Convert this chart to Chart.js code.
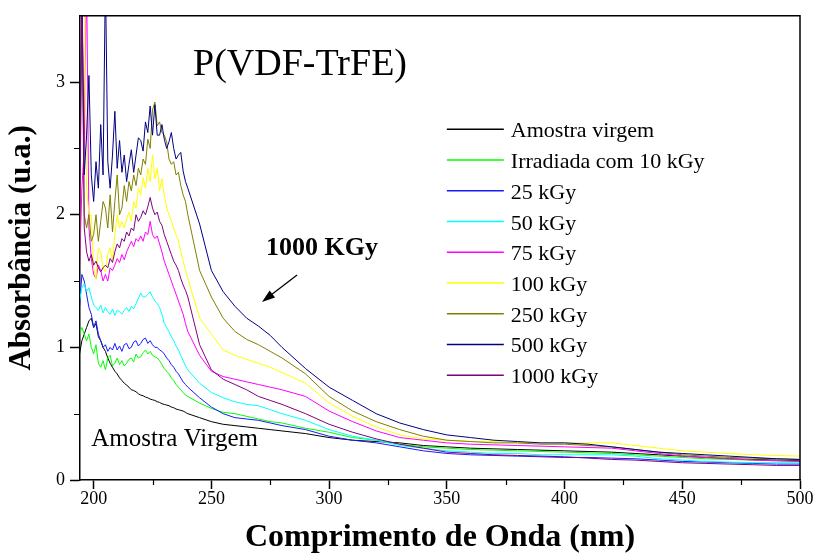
<!DOCTYPE html>
<html>
<head>
<meta charset="utf-8">
<script src="https://cdn.jsdelivr.net/npm/chart.js@4.4.0/dist/chart.umd.min.js"></script>
<style>
  html, body { margin: 0; padding: 0; background: #fff; }
  canvas { display: block; }
</style>
</head>
<body>
<canvas id="chart" width="816" height="555"></canvas>
<script>
// wavelength grid (nm): 1 nm steps in the noisy UV part, coarser after
const wavelengths = [194,195,196,197,198,199,200,201,202,203,204,205,206,207,208,209,210,211,
  212,213,214,215,216,217,218,219,220,221,222,223,224,225,226,227,228,229,230,
  231,232,233,234,235,236,237,238,239,240,
  245,250,255,260,265,270,275,280,
  290,300,310,320,330,340,350,360,370,380,390,400,410,420,430,440,450,460,470,480,490,500];

const labels = ['Amostra virgem', 'Irradiada com 10 kGy', '25 kGy', '50 kGy', '75 kGy',
  '100 kGy', '250 kGy', '500 kGy', '1000 kGy'];
const colors = ['#000000', '#00ff00', '#1a1aff', '#00ffff', '#ff00ff',
  '#ffff00', '#808000', '#000080', '#800080'];

const virgem = [0.95,1.05,1.1,1.15,1.2,1.22,1.15,1.18,1.08,1.05,1.0,0.97,0.92,0.88,0.85,0.82,0.8,0.77,
  0.75,0.73,0.715,0.7,0.68,0.675,0.665,0.65,0.64,0.635,0.625,0.62,0.61,0.605,0.6,0.59,0.585,0.575,0.57,
  0.565,0.56,0.55,0.545,0.535,0.53,0.525,0.52,0.51,0.5,
  0.47,0.44,0.42,0.41,0.4,0.39,0.38,0.37,
  0.35,0.32,0.3,0.29,0.28,0.26,0.25,0.24,0.235,0.23,0.225,0.22,0.215,0.21,0.2,0.19,0.18,0.17,0.16,0.155,0.15,0.145];
const kGy10 = [1.1,1.15,1.1,1.05,1.1,1.0,0.95,1.02,0.88,0.85,0.9,0.83,0.92,0.94,0.86,0.88,0.92,0.87,
  0.9,0.86,0.88,0.91,0.92,0.89,0.95,0.92,0.93,0.96,0.98,0.95,0.97,0.94,0.93,0.92,0.9,0.87,0.84,
  0.82,0.8,0.77,0.75,0.72,0.7,0.68,0.66,0.64,0.63,
  0.58,0.54,0.51,0.5,0.48,0.46,0.44,0.43,
  0.39,0.36,0.32,0.3,0.27,0.25,0.24,0.23,0.225,0.22,0.215,0.21,0.205,0.2,0.19,0.18,0.17,0.16,0.155,0.15,0.145,0.14];
const kGy25 = [1.3,1.55,1.5,1.4,1.3,1.25,1.15,1.2,1.1,1.05,1.0,1.02,0.97,1.0,0.98,1.03,0.98,1.01,
  0.97,1.02,1.03,0.99,1.0,1.04,1.05,1.01,1.03,1.06,1.07,1.03,1.05,1.02,1.0,1.0,0.98,0.97,0.95,
  0.92,0.9,0.87,0.85,0.82,0.8,0.77,0.74,0.72,0.7,
  0.62,0.55,0.5,0.47,0.46,0.45,0.43,0.41,
  0.38,0.33,0.3,0.28,0.25,0.22,0.2,0.19,0.185,0.18,0.175,0.17,0.17,0.165,0.16,0.15,0.14,0.135,0.13,0.125,0.12,0.12];
const kGy50 = [1.35,1.45,1.48,1.42,1.45,1.38,1.32,1.3,1.28,1.32,1.26,1.3,1.27,1.25,1.29,1.24,1.28,1.27,
  1.25,1.28,1.3,1.27,1.31,1.29,1.33,1.37,1.41,1.38,1.38,1.4,1.42,1.38,1.35,1.33,1.3,1.25,1.18,
  1.15,1.12,1.08,1.05,1.01,0.98,0.94,0.9,0.86,0.83,
  0.73,0.66,0.62,0.59,0.57,0.56,0.53,0.5,
  0.45,0.38,0.33,0.3,0.26,0.24,0.22,0.21,0.2,0.2,0.19,0.19,0.19,0.19,0.18,0.16,0.15,0.14,0.135,0.13,0.13,0.13];
const kGy75 = [1.6,2.2,2.5,3.8,1.9,1.67,1.55,1.52,1.62,1.58,1.5,1.55,1.5,1.6,1.58,1.62,1.67,1.64,
  1.7,1.66,1.72,1.76,1.8,1.76,1.82,1.8,1.84,1.8,1.87,1.85,1.95,1.85,1.82,1.84,1.78,1.72,1.65,
  1.6,1.55,1.5,1.45,1.4,1.35,1.3,1.25,1.18,1.12,
  0.94,0.82,0.78,0.76,0.74,0.72,0.7,0.68,
  0.63,0.52,0.44,0.37,0.32,0.3,0.28,0.27,0.265,0.26,0.255,0.25,0.245,0.24,0.22,0.2,0.18,0.17,0.16,0.15,0.145,0.14];
const kGy100 = [1.8,3.8,3.8,2.2,2.0,2.0,1.6,1.52,1.75,1.72,1.6,1.57,1.7,1.75,1.65,1.85,2.0,1.9,
  1.95,1.9,1.97,2.02,1.95,2.1,2.05,2.2,2.15,2.28,2.2,2.35,2.25,2.45,2.27,2.35,2.18,2.27,2.15,
  2.05,2.0,1.95,1.9,1.85,1.8,1.72,1.65,1.58,1.52,
  1.22,1.1,0.98,0.94,0.91,0.88,0.85,0.81,
  0.73,0.58,0.48,0.4,0.34,0.31,0.3,0.29,0.29,0.28,0.28,0.28,0.28,0.28,0.26,0.24,0.22,0.21,0.2,0.19,0.185,0.18];
const kGy250 = [1.6,3.8,2.0,1.9,2.0,1.8,1.85,2.0,1.8,1.95,2.1,2.05,1.9,2.15,1.87,2.1,2.3,2.0,
  2.05,2.22,2.1,2.25,2.18,2.3,2.22,2.35,2.3,2.42,2.38,2.57,2.5,2.79,2.85,2.67,2.7,2.62,2.6,
  2.55,2.42,2.38,2.4,2.3,2.32,2.22,2.15,2.1,2.0,
  1.58,1.38,1.22,1.12,1.06,1.02,0.97,0.92,
  0.8,0.63,0.52,0.44,0.38,0.33,0.3,0.29,0.28,0.28,0.27,0.27,0.26,0.25,0.23,0.21,0.19,0.18,0.17,0.165,0.16,0.155];
const kGy500 = [2.2,3.8,2.3,2.6,3.05,2.3,2.1,2.4,2.2,2.68,2.3,3.8,2.4,2.2,2.45,2.78,2.35,2.56,
  2.32,2.45,2.25,2.38,2.49,2.32,2.45,2.58,2.56,2.48,2.7,2.62,2.82,2.6,2.83,2.6,2.6,2.68,2.57,
  2.5,2.55,2.62,2.5,2.42,2.45,2.47,2.33,2.25,2.2,
  1.93,1.58,1.42,1.31,1.22,1.16,1.09,1.0,
  0.84,0.7,0.6,0.5,0.43,0.38,0.34,0.32,0.3,0.29,0.28,0.28,0.27,0.25,0.23,0.21,0.2,0.19,0.18,0.17,0.16,0.155];
const kGy1000 = [1.6,3.8,1.9,1.72,1.65,1.7,1.62,1.65,1.6,1.57,1.6,1.62,1.6,1.67,1.64,1.72,1.78,1.75,
  1.82,1.8,1.87,1.84,1.9,1.88,2.0,1.95,1.98,2.03,2.0,2.06,2.13,2.05,2.0,2.02,1.95,1.92,1.85,
  1.8,1.75,1.7,1.65,1.62,1.58,1.52,1.47,1.43,1.38,
  1.02,0.83,0.76,0.72,0.68,0.63,0.6,0.57,
  0.5,0.42,0.36,0.31,0.27,0.24,0.21,0.2,0.19,0.185,0.18,0.175,0.165,0.155,0.15,0.14,0.13,0.125,0.12,0.115,0.11,0.11];

const series = [virgem, kGy10, kGy25, kGy50, kGy75, kGy100, kGy250, kGy500, kGy1000];

const xTicks = [200, 250, 300, 350, 400, 450, 500];
const xMinor = [225, 275, 325, 375, 425, 475];
const yTicks = [0, 1, 2, 3];
const yMinor = [0.5, 1.5, 2.5];

const SERIF = '"Liberation Serif", "Times New Roman", serif';

const datasets = series.map((vals, i) => ({
  label: labels[i],
  data: wavelengths.map((w, j) => ({ x: w, y: vals[j] })),
  borderColor: colors[i],
  backgroundColor: colors[i],
  borderWidth: 1,
  pointRadius: 0,
  tension: 0,
  fill: false,
  order: series.length - i
}));

// frame, minor ticks, legend and the text notes inside the plot
const decor = {
  id: 'decor',
  afterDraw(chart) {
    const { ctx, chartArea: a, scales: { x, y } } = chart;
    ctx.save();
    ctx.strokeStyle = '#000';
    ctx.lineWidth = 1.5;
    ctx.beginPath();
    ctx.moveTo(a.left, a.top);
    ctx.lineTo(a.right, a.top);
    ctx.lineTo(a.right, a.bottom);
    ctx.stroke();

    ctx.lineWidth = 1.2;
    ctx.beginPath();
    xMinor.forEach(v => {
      const px = Math.round(x.getPixelForValue(v)) + 0.5;
      ctx.moveTo(px, a.bottom);
      ctx.lineTo(px, a.bottom + 5);
    });
    yMinor.forEach(v => {
      const py = Math.round(y.getPixelForValue(v)) + 0.5;
      ctx.moveTo(a.left, py);
      ctx.lineTo(a.left - 6, py);
    });
    ctx.stroke();

    // legend
    const lx0 = x.getPixelForValue(350), lx1 = x.getPixelForValue(374.2), tx = x.getPixelForValue(377.2);
    const ly0 = y.getPixelForValue(2.644);
    const step = y.getPixelForValue(0) - y.getPixelForValue(0.2317);
    ctx.font = '22px ' + SERIF;
    ctx.textAlign = 'left';
    ctx.textBaseline = 'alphabetic';
    labels.forEach((lab, i) => {
      const ly = ly0 + i * step;
      ctx.strokeStyle = colors[i];
      ctx.lineWidth = 1.5;
      ctx.beginPath();
      ctx.moveTo(lx0, ly);
      ctx.lineTo(lx1, ly);
      ctx.stroke();
      ctx.fillStyle = '#000';
      ctx.fillText(lab, tx, ly + 8);
    });

    // title and notes
    ctx.fillStyle = '#000';
    ctx.font = '38px ' + SERIF;
    ctx.fillText('P(VDF-TrFE)', x.getPixelForValue(242.2), y.getPixelForValue(3.05));
    ctx.font = 'bold 26px ' + SERIF;
    ctx.fillText('1000 KGy', x.getPixelForValue(273.2), y.getPixelForValue(1.695));
    ctx.font = '25px ' + SERIF;
    ctx.fillText('Amostra Virgem', x.getPixelForValue(199), y.getPixelForValue(0.255));

    // arrow
    const ax0 = x.getPixelForValue(286.4), ay0 = y.getPixelForValue(1.545);
    const ax1 = x.getPixelForValue(271.5), ay1 = y.getPixelForValue(1.343);
    const ang = Math.atan2(ay1 - ay0, ax1 - ax0);
    ctx.strokeStyle = '#000';
    ctx.lineWidth = 1.3;
    ctx.beginPath();
    ctx.moveTo(ax0, ay0);
    ctx.lineTo(ax1 - 8 * Math.cos(ang), ay1 - 8 * Math.sin(ang));
    ctx.stroke();
    ctx.beginPath();
    ctx.moveTo(ax1, ay1);
    ctx.lineTo(ax1 - 13 * Math.cos(ang) + 4.5 * Math.sin(ang), ay1 - 13 * Math.sin(ang) - 4.5 * Math.cos(ang));
    ctx.lineTo(ax1 - 13 * Math.cos(ang) - 4.5 * Math.sin(ang), ay1 - 13 * Math.sin(ang) + 4.5 * Math.cos(ang));
    ctx.closePath();
    ctx.fill();
    ctx.restore();
  }
};

new Chart(document.getElementById('chart'), {
  type: 'line',
  data: { datasets },
  options: {
    responsive: false,
    animation: false,
    events: [],
    layout: { padding: { top: 13, right: 16, left: 0, bottom: 0 } },
    plugins: { legend: { display: false }, tooltip: { enabled: false } },
    scales: {
      x: {
        type: 'linear',
        min: 194.2,
        max: 500,
        afterBuildTicks: s => { s.ticks = xTicks.map(v => ({ value: v })); },
        afterFit: s => { s.height = 75; },
        grid: { drawOnChartArea: false, drawTicks: true, tickLength: 9, tickColor: '#000', tickWidth: 1.5 },
        border: { display: true, color: '#000', width: 1.5 },
        ticks: { color: '#000', font: { family: SERIF, size: 18 }, padding: -1, maxRotation: 0, autoSkip: false },
        title: {
          display: true, text: 'Comprimento de Onda (nm)', color: '#000',
          font: { family: SERIF, size: 32, weight: 'bold', lineHeight: 1.1 },
          padding: { top: 0, bottom: 0 }
        }
      },
      y: {
        type: 'linear',
        min: 0,
        max: 3.5,
        afterBuildTicks: s => { s.ticks = yTicks.map(v => ({ value: v })); },
        afterFit: s => { s.width = 80; },
        grid: { drawOnChartArea: false, drawTicks: true, tickLength: 10, tickColor: '#000', tickWidth: 1.5 },
        border: { display: true, color: '#000', width: 1.5 },
        ticks: { color: '#000', font: { family: SERIF, size: 18 }, padding: 5 },
        title: {
          display: true, text: 'Absorbância (u.a.)', color: '#000',
          font: { family: SERIF, size: 31, weight: 'bold', lineHeight: 1.1 },
          padding: { top: 5, bottom: 0 }
        }
      }
    }
  },
  plugins: [decor]
});
</script>
</body>
</html>
